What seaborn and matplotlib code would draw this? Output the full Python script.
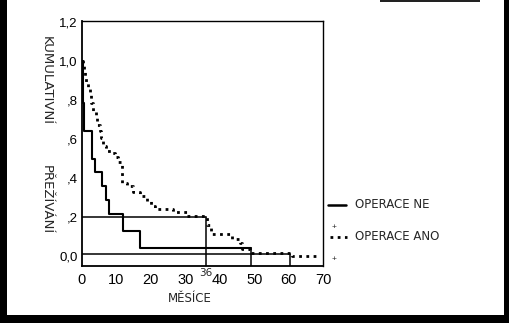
import numpy as np
import pandas as pd
import matplotlib
matplotlib.use("Agg")
import matplotlib.pyplot as plt
import seaborn as sns
from matplotlib.patches import Rectangle
from matplotlib.lines import Line2D

# ---- data ----
ne_months = [0, 0.3, 0.7, 2.8, 3.8, 5.9, 6.9, 7.9, 11.9, 16.8, 49.0]
ne_surv = [1.0, 0.786, 0.643, 0.5, 0.429, 0.357, 0.286, 0.214, 0.13, 0.04, 0.04]

ano_months = [0, 0.3, 0.6, 1.0, 1.3, 1.7, 2.2, 2.7, 3.2, 4.1, 4.4, 5.1, 5.6, 6.1, 7.0,
              8.5, 9.5, 10.5, 11.5, 11.6, 11.7, 13.0, 14.9, 16.8, 18.8, 20.0, 21.2,
              26.5, 30.4, 36.2, 37.6, 43.5, 45.9, 46.4, 48.8, 61.0, 69.0]
ano_surv = [1.0, 0.983, 0.958, 0.925, 0.892, 0.859, 0.834, 0.784, 0.745, 0.711, 0.673,
            0.639, 0.606, 0.565, 0.54, 0.53, 0.507, 0.48, 0.474, 0.43, 0.374, 0.357,
            0.33, 0.306, 0.28, 0.257, 0.24, 0.224, 0.207, 0.158, 0.113, 0.087, 0.067,
            0.036, 0.016, 0.0, 0.0]

x_ticks = [0, 10, 20, 30, 40, 50, 60, 70]
y_ticks = [0.0, 0.2, 0.4, 0.6, 0.8, 1.0, 1.2]
y_tick_labels = ["0,0", ",2", ",4", ",6", ",8", "1,0", "1,2"]
legend_labels = ["OPERACE NE", "OPERACE ANO"]
y_title = ["KUMULATIVNÍ", "PŘEŽÍVÁNÍ"]
x_title = "MĚSÍCE"
mark_month = 36
median_level = 0.2

df_ne = pd.DataFrame({"m": ne_months, "s": ne_surv})
df_ano = pd.DataFrame({"m": ano_months, "s": ano_surv})

sns.set_style("white")
plt.rcParams["font.family"] = ["Liberation Sans", "DejaVu Sans"]

W, H = 509, 323
fig = plt.figure(figsize=(W / 100, H / 100), dpi=100)
L, R, T, B = 82, 323, 21, 266
ax = fig.add_axes([L / W, 1 - B / H, (R - L) / W, (B - T) / H])

sns.lineplot(data=df_ne, x="m", y="s", ax=ax, drawstyle="steps-post",
             color="black", linewidth=1.5, estimator=None, sort=False)
sns.lineplot(data=df_ano, x="m", y="s", ax=ax, drawstyle="steps-post",
             color="black", linewidth=2.0, linestyle=(0, (1, 1.6)),
             estimator=None, sort=False)

ymin = -0.051
# hand-drawn guide lines
ax.plot([0, mark_month], [median_level, median_level], color="black", lw=1.1)
ax.plot([mark_month, mark_month], [ymin, median_level], color="black", lw=1.1)
ax.plot([0, 60.5], [0.012, 0.012], color="black", lw=1.1)
ax.plot([60.5, 60.5], [ymin, 0.012], color="black", lw=1.1)
ax.plot([49, 49], [ymin, 0.04], color="black", lw=1.1)

ax.set_xlim(0, 70)
ax.set_ylim(ymin, 1.205)
ax.set_xticks(x_ticks)
ax.set_xticklabels([str(v) for v in x_ticks], fontsize=10.5)
ax.set_yticks(y_ticks)
ax.set_yticklabels(y_tick_labels, fontsize=9.5)
ax.tick_params(axis="x", direction="out", length=3, width=0.8, pad=2, colors="black")
ax.tick_params(axis="y", direction="out", length=2, width=0.8, pad=1, colors="black")
ax.set_xlabel("")
ax.set_ylabel("")
for sp in ax.spines.values():
    sp.set_visible(True)
    sp.set_color("black")
    sp.set_linewidth(1.0)
ax.spines["left"].set_linewidth(1.3)
ax.spines["bottom"].set_linewidth(1.3)

def ax_xy(px, py):
    return (px - L) / (R - L), (B - py) / (B - T)

# legend outside the axes
x0, y0 = ax_xy(328, 205); x1, _ = ax_xy(346, 205)
ax.add_line(Line2D([x0, x1], [y0, y0], transform=ax.transAxes, color="black",
                   lw=1.8, clip_on=False))
tx, ty = ax_xy(355, 205)
ax.text(tx, ty, legend_labels[0], transform=ax.transAxes, fontsize=8.5,
        family="DejaVu Sans", va="center", ha="left")
px, py = ax_xy(334, 228)
ax.text(px, py, "+", transform=ax.transAxes, fontsize=6, va="center", ha="center")
x0, y0 = ax_xy(330, 237); x1, _ = ax_xy(347, 237)
ax.add_line(Line2D([x0, x1], [y0, y0], transform=ax.transAxes, color="black",
                   lw=2.0, linestyle=(0, (1, 1.6)), clip_on=False))
tx, ty = ax_xy(355, 236)
ax.text(tx, ty, legend_labels[1], transform=ax.transAxes, fontsize=8.5,
        family="DejaVu Sans", va="center", ha="left")
px, py = ax_xy(334, 260)
ax.text(px, py, "+", transform=ax.transAxes, fontsize=6, va="center", ha="center")

# handwritten titles
fig.text(46 / W, 1 - 80 / H, y_title[0], rotation=270, fontsize=9.5,
         family="DejaVu Sans", va="center", ha="center")
fig.text(46 / W, 1 - 200 / H, y_title[1], rotation=270, fontsize=9.5,
         family="DejaVu Sans", va="center", ha="center")
fig.text(190 / W, 1 - 298 / H, x_title, fontsize=8.5, family="DejaVu Sans",
         va="center", ha="center")
fig.text((L + mark_month * (R - L) / 70) / W, 1 - 273 / H, str(mark_month),
         fontsize=7.5, family="DejaVu Sans", va="center", ha="center")

# scan borders
def frect(px, py, w, h, c="black"):
    fig.add_artist(Rectangle((px / W, 1 - (py + h) / H), w / W, h / H,
                             transform=fig.transFigure, color=c, lw=0, zorder=10))

frect(0, 0, 7, 315)
frect(0, 315, 509, 8)
frect(504, 0, 5, 315)
frect(380, 0, 100, 2, c="#222222")

fig.savefig("out.png", dpi=100)
